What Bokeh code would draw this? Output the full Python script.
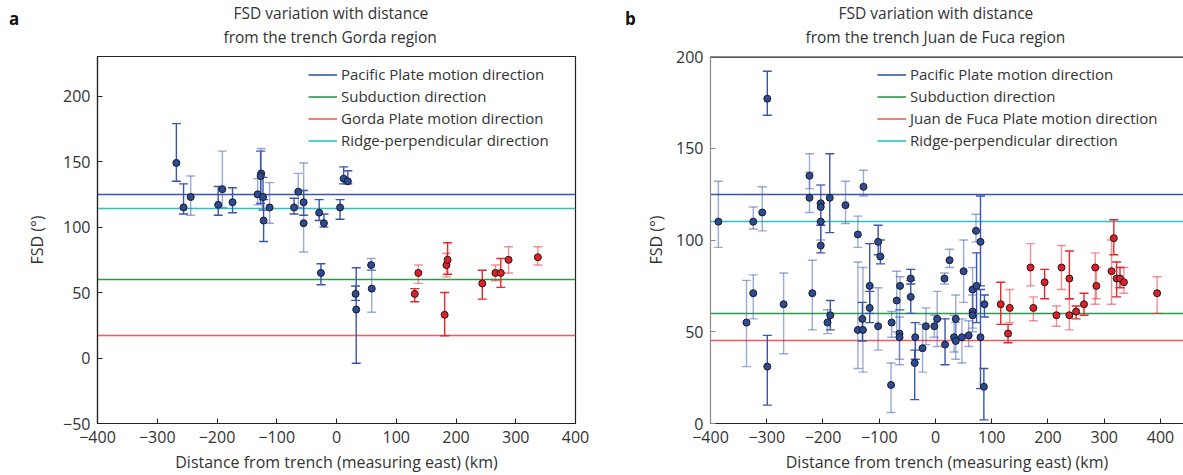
from bokeh.plotting import figure
from bokeh.models import Range1d, FixedTicker, Legend, LegendItem, Title, ColumnDataSource, Div
from bokeh.layouts import row, column
from bokeh.embed import file_html
from bokeh.resources import INLINE

FONT = "Open Sans"
TXT = "#333333"

# ---------------- Panel a : Gorda region ----------------
a_blue_x     = [-268, -256, -244, -198, -191, -174, -132, -126, -127, -123, -122, -112, -71, -64, -55, -55, -29, -21, -26, 6, 12, 19, 32, 33, 58, 59]
a_blue_y     = [149, 115, 123, 117, 129, 119, 125, 141, 139, 123, 105, 115, 115, 127, 119, 103, 111, 103, 65, 115, 137, 135, 49, 37, 71, 53]
a_blue_lo    = [135, 110, 109, 109, 115, 111, 117, 124, 118, 113, 89, 103, 110, 115, 109, 81, 105, 100, 56, 106, 133, 133, 44, -4, 67, 35]
a_blue_hi    = [179, 133, 139, 131, 158, 130, 137, 160, 158, 138, 121, 134, 122, 141, 128, 149, 121, 110, 72, 121, 146, 143, 55, 69, 76, 67]
a_blue_light = [0, 0, 1, 0, 1, 0, 1, 1, 0, 0, 0, 1, 0, 1, 0, 1, 0, 0, 0, 0, 0, 0, 0, 0, 1, 1]

a_red_x     = [131, 137, 181, 184, 186, 244, 266, 275, 288, 337]
a_red_y     = [49, 65, 33, 71, 75, 57, 65, 65, 75, 77]
a_red_lo    = [43, 57, 17, 62, 64, 45, 59, 54, 65, 71]
a_red_hi    = [53, 71, 50, 80, 88, 67, 71, 76, 85, 85]
a_red_light = [0, 1, 0, 1, 0, 0, 1, 0, 1, 1]

a_line_labels = ["Pacific Plate motion direction", "Subduction direction",
                 "Gorda Plate motion direction", "Ridge-perpendicular direction"]
a_line_values = [125, 60, 17, 114]

# ---------------- Panel b : Juan de Fuca region ----------------
b_blue_x     = [-386, -336, -324, -324, -308, -299, -299, -270, -224, -224, -219, -204, -204, -204, -204, -192, -187, -188,
                -160, -138, -128, -138, -129, -130, -117, -117, -102, -98, -102, -78, -79, -69, -63, -64, -64, -44, -44,
                -36, -37, -23, -17, -2, 3, 16, 25, 17, 36, 33, 36, 47, 59, 50, 66, 66, 66, 73, 72, 80, 80, 86, 87]
b_blue_y     = [110, 55, 110, 71, 115, 177, 31, 65, 135, 123, 71, 120, 118, 110, 97, 55, 59, 123,
                119, 103, 129, 51, 51, 57, 75, 63, 99, 91, 53, 55, 21, 67, 75, 49, 47, 79, 69,
                47, 33, 41, 53, 53, 57, 79, 89, 43, 57, 47, 45, 47, 48, 83, 73, 61, 59, 75, 105, 99, 47, 20, 65]
b_blue_lo    = [96, 31, 106, 57, 105, 168, 10, 38, 128, 115, 51, 110, 110, 100, 93, 49, 51, 104,
                109, 96, 124, 30, 28, 45, 60, 55, 92, 87, 40, 47, 6, 50, 62, 35, 32, 76, 60,
                35, 13, 28, 43, 47, 42, 76, 85, 32, 47, 39, 35, 33, 42, 66, 60, 52, 50, 55, 99, 75, 19, 2, 58]
b_blue_hi    = [132, 78, 118, 81, 129, 192, 48, 82, 147, 137, 89, 130, 130, 120, 108, 62, 67, 147,
                132, 113, 138, 88, 85, 66, 98, 72, 108, 100, 74, 61, 33, 83, 80, 58, 62, 84, 78,
                55, 40, 54, 63, 59, 72, 82, 95, 57, 70, 59, 55, 57, 56, 100, 85, 73, 70, 93, 114, 124, 73, 30, 70]
b_blue_light = [1, 1, 1, 1, 1, 0, 0, 1, 1, 1, 1, 1, 1, 1, 0, 1, 0, 0,
                1, 1, 1, 1, 1, 0, 0, 0, 0, 0, 1, 1, 1, 1, 1, 1, 1, 0, 0,
                0, 0, 1, 1, 1, 1, 1, 1, 0, 1, 1, 1, 1, 1, 1, 1, 1, 1, 0, 1, 0, 0, 0, 0]

b_red_x     = [116, 132, 129, 169, 174, 194, 215, 224, 238, 238, 250, 264, 284, 286, 313, 317, 322, 328, 335, 394]
b_red_y     = [65, 63, 49, 85, 63, 77, 59, 85, 79, 59, 61, 65, 85, 75, 83, 101, 79, 79, 77, 71]
b_red_lo    = [54, 55, 44, 75, 56, 68, 53, 73, 68, 51, 57, 59, 65, 68, 65, 92, 69, 74, 71, 60]
b_red_hi    = [77, 73, 54, 98, 69, 84, 64, 97, 94, 68, 64, 71, 93, 85, 100, 111, 88, 85, 85, 80]
b_red_light = [0, 1, 0, 1, 1, 0, 1, 1, 0, 1, 0, 0, 1, 1, 1, 0, 0, 0, 1, 1]

b_line_labels = ["Pacific Plate motion direction", "Subduction direction",
                 "Juan de Fuca Plate motion direction", "Ridge-perpendicular direction"]
b_line_values = [125, 60, 45, 110]

LINE_COLORS = ["#3a56aa", "#2a9a4a", "#f05a5a", "#2fc0c0"]
BLUE_BAR, BLUE_FILL = "#3a55b0", "#2c4a98"
RED_BAR, RED_FILL = "#e8262d", "#e31e26"


def minus(v):
    return str(v).replace("-", "\u2212")


def add_series(p, xs, ys, lo, hi, light, bar_color, fill_color):
    alpha = [0.5 if l else 1.0 for l in light]
    src = ColumnDataSource(dict(x=xs, y=ys, lo=lo, hi=hi, a=alpha))
    p.segment(x0="x", y0="lo", x1="x", y1="hi", source=src, line_color=bar_color,
              line_alpha="a", line_width=1.4)
    p.scatter(x="x", y="lo", source=src, marker="dash", size=9, line_color=bar_color,
              line_alpha="a", line_width=1.4)
    p.scatter(x="x", y="hi", source=src, marker="dash", size=9, line_color=bar_color,
              line_alpha="a", line_width=1.4)
    p.scatter(x="x", y="y", source=src, marker="circle", size=7, fill_color=fill_color,
              line_color="#1b1b1b", line_width=1)


def make_panel(title1, title2, offsets, xr, yr, yticks,
               width, left, right, top, bottom, ylabel_standoff,
               labels, values, blue, red, legend_loc, frame_style):
    p = figure(width=width, height=475, x_range=Range1d(*xr), y_range=Range1d(*yr),
               output_backend="svg", toolbar_location=None,
               min_border_left=left, min_border_right=right, min_border_top=top,
               min_border_bottom=bottom, background_fill_color="white",
               border_fill_color="white")
    p.title.visible = False
    for txt, sd, off in ((title2, 17, offsets[1]), (title1, -16, offsets[0])):
        p.add_layout(Title(text=txt, align="left", offset=off, standoff=sd,
                           text_font=FONT, text_font_size="15.5px",
                           text_font_style="normal", text_color=TXT), "above")
    p.grid.visible = False

    xt = list(range(-400, 401, 100))
    p.xaxis.ticker = FixedTicker(ticks=xt)
    p.xaxis.major_label_overrides = {t: minus(t) for t in xt}
    p.yaxis.ticker = FixedTicker(ticks=yticks)
    p.yaxis.major_label_overrides = {t: minus(t) for t in yticks}
    for ax in (p.xaxis, p.yaxis):
        ax.major_tick_in = 5
        ax.major_tick_out = 0
        ax.minor_tick_line_color = None
        ax.major_label_text_font = FONT
        ax.major_label_text_font_size = "16px"
        ax.major_label_text_color = TXT
        ax.axis_label_text_font = FONT
        ax.axis_label_text_font_size = "16px"
        ax.axis_label_text_font_style = "normal"
        ax.axis_label_text_color = TXT
        ax.axis_line_width = 1.2
        ax.major_tick_line_width = 1
    p.xaxis.axis_label = "Distance from trench (measuring east) (km)"
    p.yaxis.axis_label = "FSD (\u00b0)"
    p.xaxis.major_label_standoff = 7
    p.xaxis.axis_label_standoff = 5
    p.yaxis.major_label_standoff = 7
    p.yaxis.axis_label_standoff = ylabel_standoff
    p.xaxis.axis_line_color = "#222222"
    p.xaxis.major_tick_line_color = "#222222"

    if frame_style == "box":
        p.outline_line_color = "#222222"
        p.outline_line_width = 1.2
        p.yaxis.axis_line_color = "#222222"
        p.yaxis.major_tick_line_color = "#222222"
    else:
        p.outline_line_color = None
        p.yaxis.axis_line_color = "#8a8a8a"
        p.yaxis.major_tick_line_color = "#8a8a8a"
        # top border of the frame (the right side is cut off in the original)
        p.hspan(y=[yr[1]], line_color="#222222", line_width=2.4)

    items = []
    for lab, val, col in zip(labels, values, LINE_COLORS):
        r = p.hspan(y=[val], line_color=col, line_width=1.6)
        items.append(LegendItem(label=lab, renderers=[r]))

    add_series(p, *blue, BLUE_BAR, BLUE_FILL)
    add_series(p, *red, RED_BAR, RED_FILL)

    leg = Legend(items=items, location=legend_loc, border_line_color=None,
                 background_fill_alpha=0, label_text_font=FONT,
                 label_text_font_size="15px", label_text_color=TXT,
                 glyph_width=29, glyph_height=19, spacing=2, label_standoff=4,
                 padding=5, margin=0, label_height=19)
    p.add_layout(leg)
    return p


pa = make_panel("FSD variation with distance", "from the trench Gorda region", (136, 126),
                (-400, 400), (-50, 230.3), list(range(-50, 201, 50)),
                620, 97, 45, 55, 50, 12,
                a_line_labels, a_line_values,
                (a_blue_x, a_blue_y, a_blue_lo, a_blue_hi, a_blue_light),
                (a_red_x, a_red_y, a_red_lo, a_red_hi, a_red_light),
                (211, 273), "box")

pb = make_panel("FSD variation with distance", "from the trench Juan de Fuca region", (128, 95),
                (-400, 440.9), (0, 200), list(range(0, 201, 50)),
                563, 90, 0, 56, 50, 6,
                b_line_labels, b_line_values,
                (b_blue_x, b_blue_y, b_blue_lo, b_blue_hi, b_blue_light),
                (b_red_x, b_red_y, b_red_lo, b_red_hi, b_red_light),
                (167, 273), "open")

panel_letters = ["a", "b"]
letter_left = [9, 625]
spans = "".join(
    f'<span style="position:absolute;left:{lx}px;top:7px">{t}</span>'
    for t, lx in zip(panel_letters, letter_left))
letters = Div(text=f'<div style="position:relative;width:1183px;height:26px;'
                   f'font-family:\'Open Sans\';font-weight:bold;font-size:17px;'
                   f'color:#111111;line-height:normal">{spans}</div>',
              width=1183, height=26, margin=(0, 0, -26, 0),
              styles={"position": "relative", "z-index": "5"})

layout = column(letters, row(pa, pb))
open("out.html", "w").write(file_html(layout, INLINE))
